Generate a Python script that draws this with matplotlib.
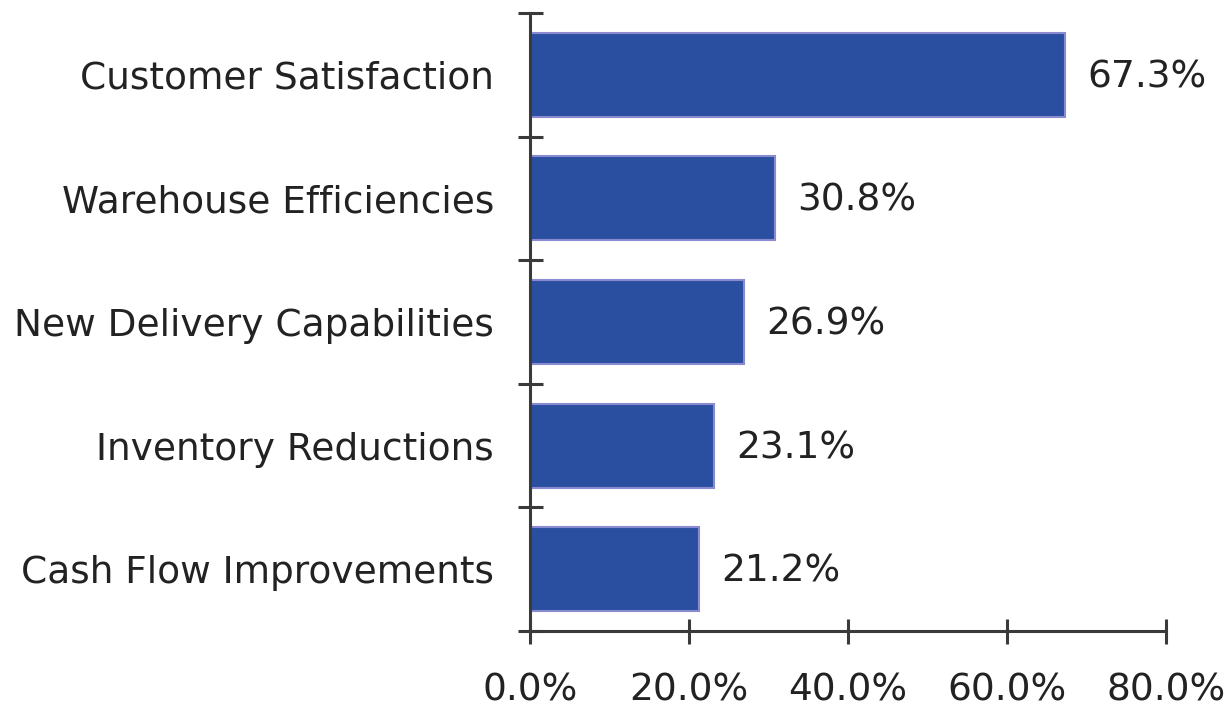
import numpy as np
import matplotlib
matplotlib.use('Agg')
import matplotlib.pyplot as plt
from matplotlib.ticker import FixedLocator, PercentFormatter

# 数据
categories = ['Customer Satisfaction', 'Warehouse Efficiencies',
              'New Delivery Capabilities', 'Inventory Reductions',
              'Cash Flow Improvements']
values = [67.3, 30.8, 26.9, 23.1, 21.2]
x_ticks = [0, 20, 40, 60, 80]

plt.rcParams['font.family'] = ['DejaVu Sans']
FS = 27

fig = plt.figure(figsize=(12.32, 7.11), dpi=100)
ax = fig.add_axes([530 / 1232, 1 - 631 / 711, 636 / 1232, 618 / 711])

# 从上到下排列
y = np.arange(len(categories))[::-1]
ax.barh(y, values, height=0.68, color='#2b4fa0', edgecolor='#8a8ad0',
        linewidth=1.5, zorder=2)

# 数值标签
for yi, v in zip(y, values):
    ax.text(v + 2.8, yi - 0.02, f'{v:.1f}%', va='center', ha='left',
            fontsize=FS, color='#222222')

ax.set_xlim(0, 80)
ax.set_ylim(-0.5, len(categories) - 0.5)

# 坐标轴样式
for side in ['top', 'right']:
    ax.spines[side].set_visible(False)
for side in ['left', 'bottom']:
    ax.spines[side].set_linewidth(2.2)
    ax.spines[side].set_color('#3a3a3a')

ax.set_yticks(y)
ax.set_yticklabels(categories)
ax.yaxis.set_minor_locator(FixedLocator(np.arange(-0.5, len(categories), 1.0)))
ax.tick_params(axis='y', which='major', length=0, pad=26, labelsize=FS,
               labelcolor='#222222')
ax.tick_params(axis='y', which='minor', direction='inout', length=18,
               width=2.2, color='#3a3a3a')

ax.set_xticks(x_ticks)
ax.xaxis.set_major_formatter(PercentFormatter(decimals=1))
ax.tick_params(axis='x', which='major', direction='inout', length=18,
               width=2.2, color='#3a3a3a', pad=21, labelsize=FS,
               labelcolor='#222222')

fig.savefig('out.png', dpi=100)
